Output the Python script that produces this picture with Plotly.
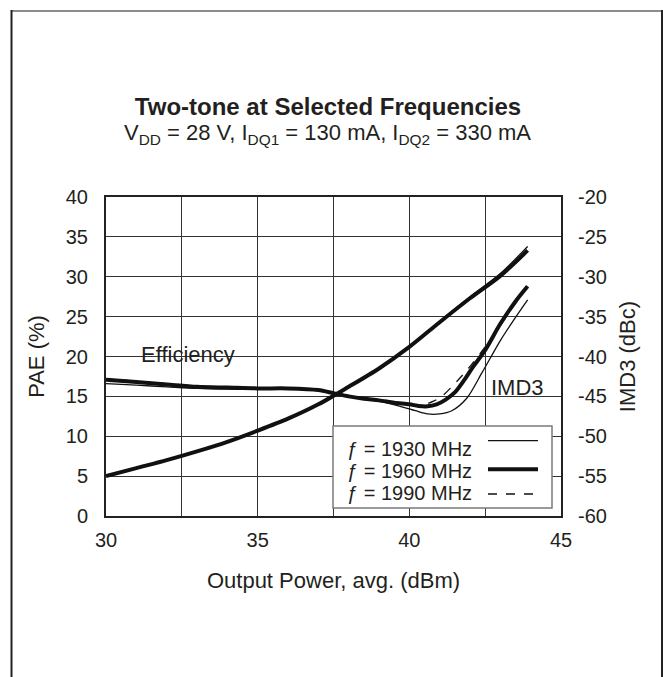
import plotly.graph_objects as go

# ---------------- data ----------------
pae_x = [30, 31, 32, 33, 34, 35, 36, 37, 38, 39, 40, 41, 42, 43, 43.9]
pae_1930 = [5.0, 6.0, 7.0, 8.1, 9.3, 10.7, 12.2, 14.0, 16.2, 18.5, 21.2, 24.4, 27.5, 30.4, 33.8]
pae_1960 = [5.0, 6.0, 7.0, 8.1, 9.3, 10.7, 12.2, 14.0, 16.2, 18.5, 21.2, 24.3, 27.3, 30.1, 33.3]
pae_1990 = [5.1, 6.0, 7.0, 8.1, 9.3, 10.7, 12.2, 14.0, 16.1, 18.4, 21.1, 24.2, 27.2, 30.0, 33.1]

imd_x_1930 = [30, 31, 32, 33, 34, 35, 36, 37, 37.5, 38, 39, 39.7, 40.2, 40.6, 41.0, 41.4, 41.9, 42.4, 43, 43.5, 43.9]
imd_1930 = [-43.4, -43.6, -43.8, -44.0, -44.1, -44.1, -44.1, -44.3, -44.6, -45.0, -45.6, -46.25, -46.8, -47.2, -47.2, -46.8, -45.2, -42.0, -38.0, -35.1, -32.9]

imd_x_1960 = [30, 31, 32, 33, 34, 35, 36, 37, 37.5, 38, 38.5, 39, 39.5, 40, 40.3, 40.6, 40.9, 41.2, 41.5, 41.8, 42.1, 42.5, 43, 43.5, 43.9]
imd_1960 = [-42.9, -43.2, -43.5, -43.8, -43.9, -44.0, -44.0, -44.2, -44.6, -45.0, -45.3, -45.5, -45.8, -46.0, -46.2, -46.25, -46.0, -45.4, -44.5, -43.0, -41.3, -39.2, -35.9, -33.1, -31.2]

imd_x_1990 = [30, 31, 32, 33, 34, 35, 36, 37, 37.5, 38, 39, 39.7, 40.2, 40.5, 40.8, 41.1, 41.4, 41.9, 42.5, 43, 43.5, 43.9]
imd_1990 = [-42.8, -43.1, -43.4, -43.7, -43.9, -44.0, -44.0, -44.2, -44.6, -45.0, -45.5, -45.8, -46.0, -46.0, -45.6, -44.9, -43.8, -41.7, -38.8, -36.1, -33.3, -31.1]

y2_tickvals = [-60, -55, -50, -45, -40, -35, -30, -25, -20]
y2_ticktext = ["-60", "-55", "-50", "-45", "-40", "-35", "-30", "-25", "-20"]
legend_labels = ["ƒ = 1930 MHz", "ƒ = 1960 MHz", "ƒ = 1990 MHz"]

# ---------------- figure ----------------
FONT = "Liberation Sans, Arial, sans-serif"
TXT = "#231f20"
W, H = 663, 677
L, R, T, B = 106, 102, 197, 161
PW, PH = W - L - R, H - T - B


def px(xpix):
    return (xpix - L) / PW


def py(ypix):
    return (H - B - ypix) / PH


fig = go.Figure()

styles = [dict(width=1.3, dash="solid"), dict(width=4.0, dash="solid"), dict(width=1.3, dash="dash")]

for ys, st, name in zip([pae_1930, pae_1960, pae_1990], styles, legend_labels):
    fig.add_trace(go.Scatter(x=pae_x, y=ys, mode="lines", name="PAE " + name,
                             line=dict(color="#111", width=st["width"], dash=st["dash"], shape="spline", smoothing=0.8),
                             showlegend=False))

for xs, ys, st, name in zip([imd_x_1930, imd_x_1960, imd_x_1990], [imd_1930, imd_1960, imd_1990], styles, legend_labels):
    fig.add_trace(go.Scatter(x=xs, y=ys, mode="lines", name="IMD3 " + name, yaxis="y2",
                             line=dict(color="#111", width=st["width"], dash=st["dash"], shape="spline", smoothing=0.8),
                             showlegend=False))

shapes = [
    # outer frame
    dict(type="line", xref="paper", yref="paper", x0=px(11), x1=px(662), y0=py(11), y1=py(11),
         line=dict(color="#8c8c8c", width=2)),
    dict(type="line", xref="paper", yref="paper", x0=px(11.5), x1=px(11.5), y0=py(10), y1=py(690),
         line=dict(color="#222", width=2)),
    dict(type="line", xref="paper", yref="paper", x0=px(662), x1=px(662), y0=py(10), y1=py(690),
         line=dict(color="#222", width=2)),
    # white boxes behind labels (cover gridlines only)
    dict(type="rect", xref="paper", yref="paper", x0=px(125), x1=px(238), y0=py(370), y1=py(333),
         fillcolor="white", line=dict(width=0), layer="between"),
    dict(type="rect", xref="paper", yref="paper", x0=px(488), x1=px(557), y0=py(405), y1=py(370),
         fillcolor="white", line=dict(width=0), layer="between"),
    # legend box
    dict(type="rect", xref="paper", yref="paper", x0=px(333), x1=px(552), y0=py(508), y1=py(426),
         fillcolor="white", line=dict(color="#7a7a7a", width=1.5), layer="above"),
]
leg_line_y = [440.7, 469.3, 494]
leg_text_y = [449.3, 471, 493]
for yy, st in zip(leg_line_y, styles):
    shapes.append(dict(type="line", xref="paper", yref="paper", x0=px(488), x1=px(538), y0=py(yy), y1=py(yy),
                       line=dict(color="#111", width=st["width"], dash=st["dash"]), layer="above"))

annotations = [
    dict(text="V<sub>DD</sub> = 28 V, I<sub>DQ1</sub> = 130 mA, I<sub>DQ2</sub> = 330 mA", x=px(327.5), y=py(134),
         xref="paper", yref="paper", showarrow=False, xanchor="center", yanchor="middle",
         font=dict(size=22, color=TXT, family=FONT)),
    dict(text="Efficiency", x=px(188), y=py(354), xref="paper", yref="paper",
         showarrow=False, xanchor="center", yanchor="middle", font=dict(size=22, color=TXT, family=FONT)),
    dict(text="IMD3", x=px(517.5), y=py(387.7), xref="paper", yref="paper",
         showarrow=False, xanchor="center", yanchor="middle", font=dict(size=22, color=TXT, family=FONT)),
]
for yy, lab in zip(leg_text_y, legend_labels):
    annotations.append(dict(text=lab, x=px(345), y=py(yy), xref="paper", yref="paper", showarrow=False,
                            xanchor="left", yanchor="middle", font=dict(size=20, color=TXT, family=FONT)))

fig.update_layout(
    width=W, height=H,
    margin=dict(l=L, r=R, t=T, b=B, pad=0),
    paper_bgcolor="white", plot_bgcolor="white",
    font=dict(family=FONT, color=TXT, size=20),
    showlegend=False,
    title=dict(text="<b>Two-tone at Selected Frequencies</b>", x=px(328), xref="paper", xanchor="center",
               y=1 - 106.5 / H, yref="container", yanchor="middle",
               font=dict(size=24, color=TXT, family=FONT)),
    xaxis=dict(range=[30, 45], dtick=5, tick0=30, showgrid=True,
               gridcolor="#333", gridwidth=1, zeroline=False, showline=True, mirror=True,
               minor=dict(dtick=2.5, tick0=30, showgrid=True, gridcolor="#333", gridwidth=1, ticks=""),
               linecolor="#222", linewidth=2, ticks="", ticklabelstandoff=5,
               tickfont=dict(size=20, color=TXT, family=FONT),
               title=dict(text="Output Power, avg. (dBm)", standoff=23, font=dict(size=22, color=TXT, family=FONT))),
    yaxis=dict(range=[0, 40], dtick=5, showgrid=True, gridcolor="#333", gridwidth=1, zeroline=False,
               showline=True, mirror=True, linecolor="#222", linewidth=2, ticks="", ticklabelstandoff=12,
               tickfont=dict(size=20, color=TXT, family=FONT),
               title=dict(text="PAE (%)", standoff=15, font=dict(size=22, color=TXT, family=FONT))),
    yaxis2=dict(range=[-60, -20], tickvals=y2_tickvals, ticktext=y2_ticktext, overlaying="y", side="right",
                showgrid=False, zeroline=False, showline=False, ticks="", ticklabelstandoff=16,
                tickfont=dict(size=20, color=TXT, family=FONT),
                title=dict(text="IMD3 (dBc)", standoff=13, font=dict(size=22, color=TXT, family=FONT))),
    shapes=shapes,
    annotations=annotations,
)

fig.write_html("out.html", config={"displayModeBar": False},
               post_script="document.body.style.margin='0';document.body.style.padding='0';")
